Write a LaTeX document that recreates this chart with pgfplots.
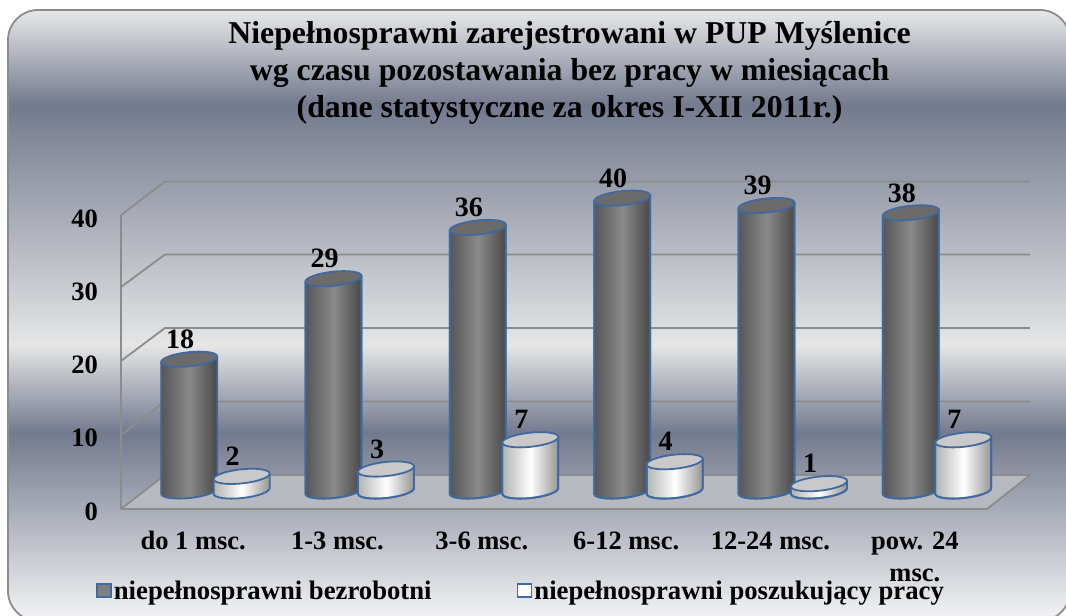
\documentclass[border=0pt]{standalone}
\usepackage{fontspec}
\setmainfont{Liberation Serif}
\usepackage{pgfplots}
\usepackage{pgfplotstable}
\pgfplotsset{compat=1.18}
\definecolor{cylblue}{HTML}{3F6A9F}
\definecolor{gridg}{HTML}{8C8C8C}
\definecolor{floorc}{HTML}{B6B9C0}
\definecolor{bgdark}{HTML}{737A8E}
\pgfdeclareverticalshading{bgshade}{1080pt}{
  color(0pt)=(white!96!black);
  color(188pt)=(bgdark);
  color(276pt)=(white!90!black);
  color(516pt)=(bgdark);
  color(611pt)=(white!91!black)}
\pgfplotstableread{
idx dark light
0 18 2
1 29 3
2 36 7
3 40 4
4 39 1
5 38 7
}\cyltable
\newcommand{\xs}{\rule{0pt}{20pt}}
% cylinder as one mark: #1 left, #2 middle, #3 right, #4 top
\newcommand{\cylpath}{%
    (-28pt,-3pt) -- (-28pt,-3pt-\cylh)
    .. controls (-27.6pt,-6.87pt-\cylh) and (-14.7pt,-8.66pt-\cylh) .. (0.75pt,-7pt-\cylh)
    .. controls (16.2pt,-5.34pt-\cylh) and (28.4pt,-0.87pt-\cylh) .. (28pt,3pt-\cylh)
    -- (28pt,3pt)}
\newcommand{\cylmark}[4]{%
  \pgfmathsetlengthmacro{\cylh}{\cylv*7.32}%
  \path[left color=#1,right color=#3,middle color=#2] \cylpath -- cycle;
  \draw[cylblue,line width=1.8pt,line join=round] \cylpath;
  \pgfsetfillcolor{#4}\pgfsetstrokecolor{cylblue}\pgfsetlinewidth{1.8pt}%
  \pgfpathellipse{\pgfpointorigin}{\pgfpoint{28pt}{3pt}}{\pgfpoint{-0.75pt}{7pt}}%
  \pgfusepath{fill,stroke}}
\pgfdeclareplotmark{cyldark}{\cylmark{black!66}{black!46}{black!72}{black!58}}
\pgfdeclareplotmark{cyllight}{\cylmark{black!30}{white}{black!42}{black!21}}
\begin{document}
\begin{tikzpicture}[x=1pt,y=1pt]
\path[use as bounding box] (0,0) rectangle (1066,616);
\begin{scope}
\clip (0,0) rectangle (1066,616);
\begin{scope}
\clip[rounded corners=30pt] (8,-5) rectangle (1070,606);
\node[inner sep=0pt,anchor=south west] at (0,-5) {\pgfuseshading{bgshade}};
\end{scope}
\draw[gridg,line width=1.8pt,rounded corners=30pt] (8,-5) rectangle (1070,606);
\end{scope}
% floor and walls (reference pixels, y measured from the bottom)
\fill[floorc] (121,107) -- (987,107) -- (1030,141) -- (165,141) -- cycle;
\draw[gridg,line width=1.8pt,line join=round] (121,401) -- (121,107) -- (987,107) -- (1030,141) -- (165,141) -- (121,107);
\draw[gridg,line width=1.8pt] (121,181) -- (165,214.5) -- (1030,214.5);
\draw[gridg,line width=1.8pt] (121,255) -- (165,288) -- (1030,288);
\draw[gridg,line width=1.8pt] (121,329) -- (165,361.5) -- (1030,361.5);
\draw[gridg,line width=1.8pt] (121,401) -- (165,434.5) -- (1030,434.5);
\begin{axis}[
  at={(121pt,106pt)},anchor=south west,
  scale only axis,width=866pt,height=292.8pt,
  xmin=-0.5,xmax=5.5,ymin=0,ymax=40,
  clip=false,
  axis line style={draw=none},
  major tick length=0pt,
  xtick={0,...,5},
  xticklabels={\xs do 1 msc.,\xs 1-3 msc.,\xs 3-6 msc.,\xs 6-12 msc.,\xs 12-24 msc.,{\xs pow. 24\\msc.}},
  ytick={0,10,...,40},
  /pgf/number format/assume math mode=true,
  tick label style={font=\fontsize{26.5}{32}\selectfont\bfseries,inner sep=0pt},
  xticklabel style={align=center,anchor=north,yshift=-19pt},
  yticklabel style={anchor=east,xshift=-23pt,yshift=-1.5pt},
  title={Niepełnosprawni zarejestrowani w PUP Myślenice\\wg czasu pozostawania bez pracy w miesiącach\\(dane statystyczne za okres I-XII 2011r.)},
  title style={at={(0.518,1)},anchor=center,yshift=138pt,align=center,
    font=\fontsize{31.8}{37}\selectfont\bfseries},
  legend columns=2,
  legend style={at={(-0.029,-0.2766)},anchor=west,draw=none,fill=none,inner sep=0pt,
    font=\fontsize{26.7}{28}\selectfont\bfseries,
    /tikz/every even column/.append style={column sep=83pt}},
  legend cell align=left,
  every node near coord/.append style={anchor=center,xshift=-9pt,yshift=20pt,
    font=\fontsize{28}{30}\selectfont\bfseries,inner sep=0pt,black},
]
\addplot[scatter,only marks,mark=cyldark,xshift=-4pt,yshift=19pt,
  visualization depends on={rawy \as \cylv},nodes near coords,
  legend image code/.code={\draw[cylblue,line width=1.8pt,fill=black!50] (0pt,-25pt) rectangle (14pt,-12pt);}]
  table[x=idx,y=dark] {\cyltable};
\addlegendentry{niepełnosprawni bezrobotni}
\addplot[scatter,only marks,mark=cyllight,xshift=48.5pt,yshift=19pt,
  visualization depends on={rawy \as \cylv},nodes near coords,
  legend image code/.code={\draw[cylblue,line width=1.8pt,fill=white] (0pt,-25pt) rectangle (14pt,-12pt);}]
  table[x=idx,y=light] {\cyltable};
\addlegendentry{niepełnosprawni poszukujący pracy}
\end{axis}
\end{tikzpicture}
\end{document}
